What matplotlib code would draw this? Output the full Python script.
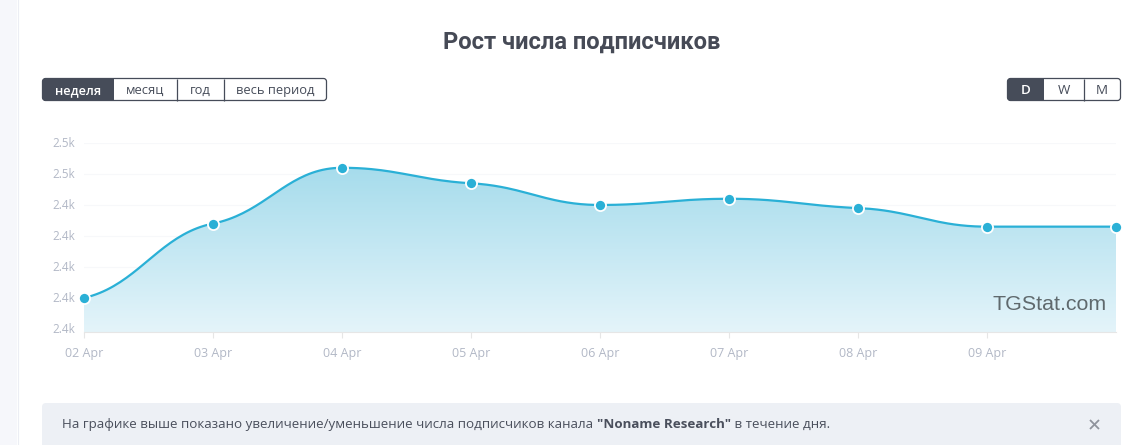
#!/usr/bin/env python3

import matplotlib
matplotlib.use("Agg")

import matplotlib.pyplot as plt
import numpy as np
from matplotlib.colors import LinearSegmentedColormap
from matplotlib.patches import FancyBboxPatch, PathPatch, Rectangle
from matplotlib.path import Path
from matplotlib.transforms import ScaledTranslation

WIDTH, HEIGHT = 1132, 445
UI_FONT = ["Open Sans", "DejaVu Sans"]
TITLE_FONT = ["Roboto", "DejaVu Sans"]

DAYS = [0, 1, 2, 3, 4, 5, 6, 7, 8]
DAY_LABELS = ["02 Apr", "03 Apr", "04 Apr", "05 Apr", "06 Apr", "07 Apr", "08 Apr", "09 Apr"]
SUBSCRIBERS = [2410, 2434, 2452, 2447, 2440, 2442, 2439, 2433, 2433]
Y_TICKS = [2400, 2410, 2420, 2430, 2440, 2450, 2460]
Y_TICK_LABELS = ["2.4k", "2.4k", "2.4k", "2.4k", "2.4k", "2.5k", "2.5k"]

PERIOD_BUTTONS = ["неделя", "месяц", "год", "весь период"]
SCALE_BUTTONS = ["D", "W", "M"]

TITLE = "Рост числа подписчиков"
NOTE_START = "На графике выше показано увеличение/уменьшение числа подписчиков канала "
NOTE_NAME = '"Noname Research"'
NOTE_END = " в течение дня."

DARK = "#464c59"
LINE = "#2ab0d6"


def smooth_curve(xs, ys, slope_scale=0.4, handle=0.42, steps=40):
    # cubic segments with flattened tangents at each point, the S shape of the original
    xs = np.asarray(xs, dtype=float)
    ys = np.asarray(ys, dtype=float)
    secants = np.diff(ys) / np.diff(xs)
    slopes = np.gradient(ys, xs) * slope_scale
    # no overshoot at peaks, dips and flat stretches
    slopes[1:-1][secants[:-1] * secants[1:] <= 0] = 0
    if secants[-1] == 0:
        slopes[-1] = 0
    out_x, out_y = [xs[0]], [ys[0]]
    for i in range(len(xs) - 1):
        dx = (xs[i + 1] - xs[i]) * handle
        t = np.linspace(0, 1, steps)[1:]
        c1x, c1y = xs[i] + dx, ys[i] + slopes[i] * dx
        c2x, c2y = xs[i + 1] - dx, ys[i + 1] - slopes[i + 1] * dx
        px = (1 - t) ** 3 * xs[i] + 3 * (1 - t) ** 2 * t * c1x + 3 * (1 - t) * t**2 * c2x + t**3 * xs[i + 1]
        py = (1 - t) ** 3 * ys[i] + 3 * (1 - t) ** 2 * t * c1y + 3 * (1 - t) * t**2 * c2y + t**3 * ys[i + 1]
        out_x.extend(px)
        out_y.extend(py)
    return np.array(out_x), np.array(out_y)


def button_group(ui, left, right, top, bottom, dividers, labels, size):
    edges = [left] + dividers + [right]
    clip = FancyBboxPatch(
        (left, top), right - left, bottom - top,
        boxstyle="round,pad=0,rounding_size=3", facecolor="white", edgecolor="none",
    )
    ui.add_patch(clip)
    active = Rectangle((left, top), edges[1] - left, bottom - top, facecolor=DARK, edgecolor="none", zorder=2)
    ui.add_patch(active)
    active.set_clip_path(clip)
    ui.add_patch(FancyBboxPatch(
        (left, top), right - left, bottom - top,
        boxstyle="round,pad=0,rounding_size=3", facecolor="none", edgecolor=DARK, linewidth=0.9, zorder=3,
    ))
    for x in dividers[1:]:
        ui.plot([x, x], [top, bottom], color=DARK, linewidth=0.9, zorder=3, solid_capstyle="butt")
    for i, label in enumerate(labels):
        ui.text(
            (edges[i] + edges[i + 1]) / 2, (top + bottom) / 2 + 1, label,
            color="white" if i == 0 else DARK, fontsize=size, fontfamily=UI_FONT,
            fontweight="semibold" if i == 0 else "normal", ha="center", va="center", zorder=4,
        )


def main():
    fig = plt.figure(figsize=(WIDTH / 100, HEIGHT / 100), dpi=100, facecolor="white")

    # page furniture is laid out in pixels
    ui = fig.add_axes([0, 0, 1, 1])
    ui.set_xlim(0, WIDTH)
    ui.set_ylim(HEIGHT, 0)
    ui.axis("off")
    ui.add_patch(Rectangle((0, 0), 17, HEIGHT, facecolor="#f6f7fb", edgecolor="none"))
    ui.plot([17.5, 17.5], [0, HEIGHT], color="#eceef4", linewidth=0.8)

    ui.text(582, 49, TITLE, fontsize=17.1, fontweight="bold", fontfamily=TITLE_FONT, color="#464a56", ha="center", va="baseline")

    button_group(ui, 42.5, 326.5, 78.5, 100.5, [113.5, 176.5, 223.5], PERIOD_BUTTONS, 9.3)
    button_group(ui, 1007.5, 1120.5, 78.5, 100.5, [1043.5, 1083.5], SCALE_BUTTONS, 9.6)

    ui.add_patch(FancyBboxPatch(
        (42, 403), 1079, 80, boxstyle="round,pad=0,rounding_size=4", facecolor="#edf0f5", edgecolor="none",
    ))
    start = ui.text(62, 424.5, NOTE_START, fontsize=9.6, fontfamily=UI_FONT, color="#4a4f5c", va="center")
    fig.canvas.draw()
    x1 = ui.transData.inverted().transform(start.get_window_extent().get_points())[1, 0]
    name = ui.text(x1, 424.5, NOTE_NAME, fontsize=9.6, fontfamily=UI_FONT, fontweight="bold", color="#4a4f5c", va="center")
    x2 = ui.transData.inverted().transform(name.get_window_extent().get_points())[1, 0]
    ui.text(x2, 424.5, NOTE_END, fontsize=9.6, fontfamily=UI_FONT, color="#4a4f5c", va="center")
    ui.plot([1090, 1099], [420, 429], color="#8f939c", linewidth=1.3, solid_capstyle="butt")
    ui.plot([1090, 1099], [429, 420], color="#8f939c", linewidth=1.3, solid_capstyle="butt")

    # chart area: 84..1116 px wide, 143..332 px tall
    ax = fig.add_axes([84 / WIDTH, 1 - 332 / HEIGHT, (1116 - 84) / WIDTH, (332 - 143) / HEIGHT])
    ax.patch.set_alpha(0)

    curve_x, curve_y = smooth_curve(DAYS, SUBSCRIBERS)

    cmap = LinearSegmentedColormap.from_list("area", ["#e4f4fa", "#a6dcec"])
    gradient = np.linspace(1, 0, 256).reshape(-1, 1)
    image = ax.imshow(
        gradient, cmap=cmap, aspect="auto", vmin=0, vmax=1, zorder=1,
        extent=(DAYS[0], DAYS[-1], 2399, max(SUBSCRIBERS)),
    )
    ax.set_xlim(DAYS[0], DAYS[-1])
    ax.set_ylim(2399, 2460)
    outline = np.column_stack([
        np.concatenate([curve_x, [DAYS[-1], DAYS[0]]]),
        np.concatenate([curve_y, [2399, 2399]]),
    ])
    area = PathPatch(Path(outline), transform=ax.transData, facecolor="none", edgecolor="none")
    ax.add_patch(area)
    image.set_clip_path(area)

    ax.plot(curve_x, curve_y, color=LINE, linewidth=1.6, zorder=3, clip_on=False)
    ax.plot(
        DAYS, SUBSCRIBERS, linestyle="none", marker="o", markersize=8, markerfacecolor=LINE,
        markeredgecolor="white", markeredgewidth=1.3, zorder=4, clip_on=False,
    )

    ax.set_yticks(Y_TICKS)
    ax.set_yticklabels(Y_TICK_LABELS, fontsize=8.4, color="#b2b8c6", fontfamily=UI_FONT)
    ax.set_xticks(DAYS[:-1])
    ax.set_xticklabels(DAY_LABELS, fontsize=9, color="#b2b8c6", fontfamily=UI_FONT)
    ax.tick_params(axis="y", length=0, pad=6.5)
    ax.tick_params(axis="x", length=4.3, width=0.8, color="#e6e6e6", pad=6.5)
    ax.grid(True, axis="y", color="#f7f8fa", linewidth=0.8, zorder=0)
    ax.set_axisbelow(True)
    for side in ("top", "left", "right"):
        ax.spines[side].set_visible(False)
    ax.spines["bottom"].set_color("#e6e6e6")
    ax.spines["bottom"].set_linewidth(0.8)

    # y labels sit a pixel above their grid lines
    nudge = ScaledTranslation(0, 1 / 100, fig.dpi_scale_trans)
    for label in ax.get_yticklabels():
        label.set_transform(label.get_transform() + nudge)

    ax.text(
        1107, 304, "TGStat.com", transform=ui.transData, fontsize=15.4, fontfamily="Liberation Sans",
        color="#5f696d", ha="right", va="center", zorder=5,
    )

    fig.savefig("out.png", dpi=100)
    plt.close(fig)


if __name__ == "__main__":
    main()
